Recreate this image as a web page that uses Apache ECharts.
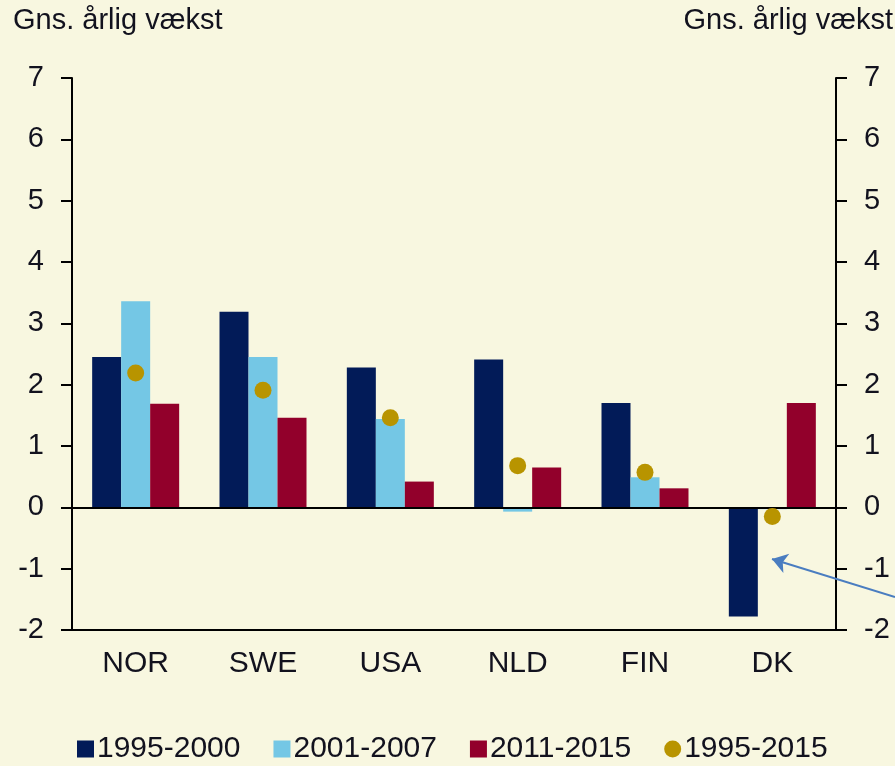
<!DOCTYPE html>
<html>
<head>
<meta charset="utf-8">
<script src="https://cdn.jsdelivr.net/npm/echarts@6/dist/echarts.min.js"></script>
<style>
  html, body { margin: 0; padding: 0; background: #F8F7E0; }
  #chart { width: 895px; height: 766px; }
</style>
</head>
<body>
<div id="chart"></div>
<script>
var countries = ['NOR', 'SWE', 'USA', 'NLD', 'FIN', 'DK'];
var p1995_2000 = [2.45, 3.19, 2.28, 2.41, 1.70, -1.78];
var p2001_2007 = [3.36, 2.45, 1.44, -0.07, 0.49, -0.03];
var p2011_2015 = [1.69, 1.46, 0.42, 0.65, 0.31, 1.70];
var p1995_2015 = [2.19, 1.91, 1.46, 0.68, 0.57, -0.15];
var yTicks = [-2, -1, 0, 1, 2, 3, 4, 5, 6, 7];

var txt = '#12121e';
var font = 'Liberation Sans, Arial, sans-serif';

function valueAxis(pos) {
  return {
    type: 'value',
    position: pos,
    min: yTicks[0],
    max: yTicks[yTicks.length - 1],
    interval: 1,
    axisLine: { show: true, lineStyle: { color: '#000', width: 2 } },
    axisTick: { show: true, length: 11, lineStyle: { color: '#000', width: 2 } },
    axisLabel: { color: txt, fontSize: 29, fontFamily: font, margin: 28 },
    splitLine: { show: false }
  };
}

option = {
  backgroundColor: '#F8F7E0',
  animation: false,
  textStyle: { fontFamily: font },
  grid: { left: 72, right: 59, top: 78, bottom: 136 },
  graphic: [
    { type: 'text', left: 13, top: 6, style: { text: 'Gns. årlig vækst', fill: txt, font: '29px ' + font } },
    { type: 'text', right: 2, top: 6, style: { text: 'Gns. årlig vækst', fill: txt, font: '29px ' + font } }
  ],
  legend: {
    top: 734,
    left: 77,
    padding: 0,
    itemWidth: 17,
    itemHeight: 17,
    itemGap: 33,
    textStyle: { color: txt, fontSize: 30, fontFamily: font, padding: [0, 0, 0, -2] },
    data: [
      { name: '1995-2000', icon: 'rect' },
      { name: '2001-2007', icon: 'rect' },
      { name: '2011-2015', icon: 'rect' },
      { name: '1995-2015', icon: 'circle' }
    ]
  },
  xAxis: {
    type: 'category',
    data: countries,
    axisLine: { onZero: false, lineStyle: { color: '#000', width: 2 } },
    axisTick: { length: 10, lineStyle: { color: '#000', width: 2 } },
    axisLabel: { color: txt, fontSize: 30, fontFamily: font, margin: 19 }
  },
  yAxis: [valueAxis('left'), valueAxis('right')],
  series: [
    {
      name: '1995-2000', type: 'bar', data: p1995_2000, barWidth: 29, barGap: '0%',
      itemStyle: { color: '#021B58' },
      markLine: {
        silent: true, symbol: 'none', label: { show: false },
        lineStyle: { color: '#000', width: 2, type: 'solid' },
        data: [{ yAxis: 0 }]
      }
    },
    {
      name: '2001-2007', type: 'bar', data: p2001_2007, barWidth: 29,
      itemStyle: { color: '#74C7E5' }
    },
    {
      name: '2011-2015', type: 'bar', data: p2011_2015, barWidth: 29,
      itemStyle: { color: '#92002B' }
    },
    {
      name: '1995-2015', type: 'scatter', data: p1995_2015, symbolSize: 17,
      itemStyle: { color: '#B89400', opacity: 1 },
      z: 5,
      markLine: {
        silent: true, symbol: ['none', 'arrow'], symbolSize: 15,
        label: { show: false },
        lineStyle: { color: '#4A7DC0', width: 2, type: 'solid' },
        data: [[{ x: 895, y: 597 }, { x: 772, y: 559 }]]
      }
    }
  ]
};

var chart = echarts.init(document.getElementById('chart'));
chart.setOption(option);
</script>
</body>
</html>
